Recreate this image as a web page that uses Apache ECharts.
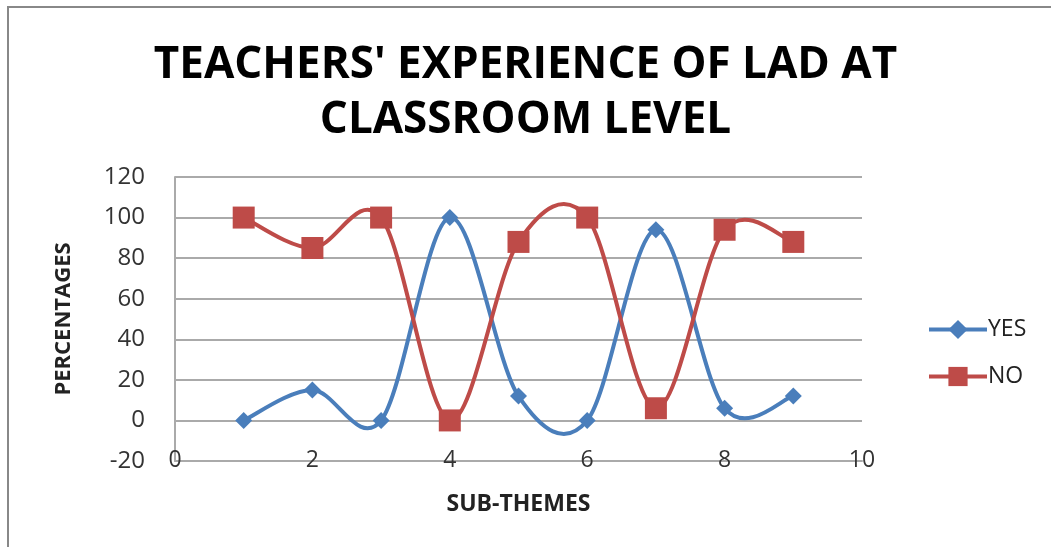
<!DOCTYPE html>
<html>
<head>
<meta charset="utf-8">
<script src="https://cdn.jsdelivr.net/npm/echarts@6/dist/echarts.min.js"></script>
<style>
  html, body { margin: 0; padding: 0; background: #fff; }
  #chart { width: 1051px; height: 547px; }
</style>
</head>
<body>
<div id="chart"></div>
<script>
// sub-theme numbers on the x axis
var subThemes = [1, 2, 3, 4, 5, 6, 7, 8, 9];
// percentages
var yesValues = [0, 15, 0, 100, 12, 0, 94, 6, 12];
var noValues = [100, 85, 100, 0, 88, 100, 6, 94, 88];

var blue = '#4A7EBB';
var red = '#BE4B48';

function pairs(vals) {
  return subThemes.map(function (x, i) { return [x, vals[i]]; });
}

// excel style smoothed line: catmull-rom segment between point i and i+1
function curve(vals, color) {
  return function (params, api) {
    var i = params.dataIndex;
    if (i >= vals.length - 1) return null;
    var pt = function (k) {
      k = Math.max(0, Math.min(vals.length - 1, k));
      return api.coord([subThemes[k], vals[k]]);
    };
    var p0 = pt(i - 1), p1 = pt(i), p2 = pt(i + 1), p3 = pt(i + 2);
    var t = 1 / 6;
    return {
      type: 'bezierCurve',
      shape: {
        x1: p1[0], y1: p1[1],
        x2: p2[0], y2: p2[1],
        cpx1: p1[0] + (p2[0] - p0[0]) * t,
        cpy1: p1[1] + (p2[1] - p0[1]) * t,
        cpx2: p2[0] - (p3[0] - p1[0]) * t,
        cpy2: p2[1] - (p3[1] - p1[1]) * t
      },
      style: { stroke: color, lineWidth: 4, fill: null }
    };
  };
}

var chart = echarts.init(document.getElementById('chart'));
var option = {
  animation: false,
  title: {
    text: "TEACHERS' EXPERIENCE OF LAD AT\nCLASSROOM LEVEL",
    left: 'center',
    top: 33,
    textStyle: {
      fontFamily: 'Open Sans',
      fontWeight: 'bold',
      fontSize: 44,
      lineHeight: 55,
      color: '#000'
    }
  },
  graphic: [{
    type: 'rect',
    shape: { x: 8, y: 7, width: 1100, height: 600 },
    style: { fill: 'none', stroke: '#888', lineWidth: 2 },
    silent: true
  }],
  legend: {
    orient: 'vertical',
    left: 922,
    top: 313,
    itemGap: 24,
    itemWidth: 58,
    itemHeight: 24,
    textStyle: { fontFamily: 'Open Sans', fontSize: 23, color: '#222', padding: [0, 0, 0, -4] },
    data: [
      { name: 'YES', lineStyle: { color: blue, width: 4, opacity: 1 } },
      { name: 'NO', lineStyle: { color: red, width: 4, opacity: 1 } }
    ]
  },
  grid: { left: 175, right: 189, top: 177, bottom: 86 },
  xAxis: {
    type: 'value',
    min: 0,
    max: 10,
    interval: 2,
    name: 'SUB-THEMES',
    nameLocation: 'middle',
    nameGap: 32,
    nameTextStyle: { fontFamily: 'Open Sans', fontWeight: 'bold', fontSize: 23, color: '#222' },
    axisLine: { onZero: false, lineStyle: { color: '#aaa', width: 2 } },
    axisTick: { show: false },
    splitLine: { show: false },
    axisLabel: { fontFamily: 'Open Sans', fontSize: 23, color: '#333', margin: -12 }
  },
  yAxis: {
    type: 'value',
    min: -20,
    max: 120,
    interval: 20,
    name: 'PERCENTAGES',
    nameLocation: 'middle',
    nameGap: 100,
    nameTextStyle: { fontFamily: 'Open Sans', fontWeight: 'bold', fontSize: 22, color: '#222' },
    axisLine: { show: true, lineStyle: { color: '#aaa', width: 2 } },
    axisTick: { show: false },
    splitLine: { lineStyle: { color: '#aaa', width: 2 } },
    axisLabel: { fontFamily: 'Open Sans', fontSize: 24, color: '#333', margin: 30 }
  },
  series: [
    {
      name: 'YES curve',
      type: 'custom',
      data: pairs(yesValues),
      encode: { x: 0, y: 1 },
      renderItem: curve(yesValues, blue),
      z: 2
    },
    {
      name: 'NO curve',
      type: 'custom',
      data: pairs(noValues),
      encode: { x: 0, y: 1 },
      renderItem: curve(noValues, red),
      z: 2
    },
    {
      name: 'YES',
      type: 'line',
      data: pairs(yesValues),
      symbol: 'diamond',
      symbolSize: 17,
      itemStyle: { color: blue },
      lineStyle: { color: blue, width: 4, opacity: 0 },
      z: 4
    },
    {
      name: 'NO',
      type: 'line',
      data: pairs(noValues),
      symbol: 'rect',
      symbolSize: 22,
      itemStyle: { color: red },
      lineStyle: { color: red, width: 4, opacity: 0 },
      z: 3
    }
  ]
};
chart.setOption(option);
</script>
</body>
</html>
